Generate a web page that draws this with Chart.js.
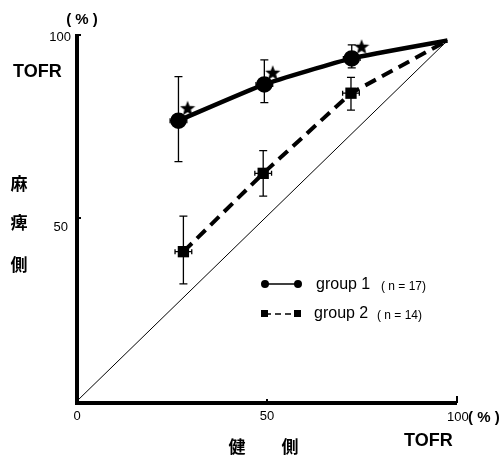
<!DOCTYPE html>
<html>
<head>
<meta charset="utf-8">
<script src="https://cdn.jsdelivr.net/npm/chart.js@4"></script>
<style>
  html, body { margin: 0; padding: 0; background: #fff; }
  #wrap { width: 502px; height: 464px; position: relative; }
</style>
</head>
<body>
<div id="wrap"><canvas id="chart" width="502" height="464"></canvas></div>
<script>
// group 1 (n = 17), last point is where the lines meet
const g1X = [26.7, 49.3, 72.3, 97.5];
const g1Y = [76.6, 86.5, 93.6, 98.5];
const g1Hi = [88.6, 93.2, 97.3];
const g1Lo = [65.4, 81.5, 91.0];

// group 2 (n = 14)
const g2X = [28.0, 49.0, 72.1, 97.5];
const g2Y = [40.8, 62.2, 84.1, 98.5];
const g2Hi = [50.5, 68.4, 88.4];
const g2Lo = [32.0, 56.0, 79.5];

// horizontal error (same for all)
const xErr = 2.2;

// significance stars
const starX = [29.1, 51.5, 74.9];
const starY = [80.0, 89.7, 96.8];

// identity line
const diagX = [0, 97.5];
const diagY = [0, 98.5];

const xTicks = [0, 50, 100];
const yTicks = [50, 100];

function pts(xs, ys) {
  return xs.map((x, i) => ({ x: x, y: ys[i] }));
}

// filled star used as point style
const starImg = document.createElement("canvas");
starImg.width = 16;
starImg.height = 16;
(function () {
  const c = starImg.getContext("2d");
  c.fillStyle = "#000";
  c.beginPath();
  for (let i = 0; i < 10; i++) {
    const r = i % 2 === 0 ? 8 : 3.4;
    const a = -Math.PI / 2 + (i * Math.PI) / 5;
    const px = 8 + r * Math.cos(a);
    const py = 8.5 + r * Math.sin(a);
    if (i === 0) c.moveTo(px, py);
    else c.lineTo(px, py);
  }
  c.closePath();
  c.fill();
})();

const decor = {
  id: "decor",
  afterDatasetsDraw(chart) {
    const ctx = chart.ctx;
    const xs = chart.scales.x;
    const ys = chart.scales.y;
    const X = (v) => xs.getPixelForValue(v);
    const Y = (v) => ys.getPixelForValue(v);

    ctx.save();
    ctx.strokeStyle = "#000";
    ctx.fillStyle = "#000";

    // error bars
    ctx.lineWidth = 1.3;
    const cap = 4;
    function errBars(xArr, yArr, hi, lo) {
      for (let i = 0; i < hi.length; i++) {
        const px = X(xArr[i]);
        const py = Y(yArr[i]);
        ctx.beginPath();
        ctx.moveTo(px, Y(hi[i]));
        ctx.lineTo(px, Y(lo[i]));
        ctx.moveTo(px - cap, Y(hi[i]));
        ctx.lineTo(px + cap, Y(hi[i]));
        ctx.moveTo(px - cap, Y(lo[i]));
        ctx.lineTo(px + cap, Y(lo[i]));
        ctx.moveTo(X(xArr[i] - xErr), py);
        ctx.lineTo(X(xArr[i] + xErr), py);
        ctx.moveTo(X(xArr[i] - xErr), py - 2.5);
        ctx.lineTo(X(xArr[i] - xErr), py + 2.5);
        ctx.moveTo(X(xArr[i] + xErr), py - 2.5);
        ctx.lineTo(X(xArr[i] + xErr), py + 2.5);
        ctx.stroke();
      }
    }
    errBars(g1X, g1Y, g1Hi, g1Lo);
    errBars(g2X, g2Y, g2Hi, g2Lo);

    // axes
    ctx.lineWidth = 4;
    ctx.beginPath();
    ctx.moveTo(X(0), Y(100) - 1);
    ctx.lineTo(X(0), Y(0) + 2);
    ctx.lineTo(X(100), Y(0) + 2);
    ctx.stroke();
    ctx.lineWidth = 2;
    ctx.beginPath();
    ctx.moveTo(X(0), Y(100));
    ctx.lineTo(X(0) + 4, Y(100));
    ctx.moveTo(X(100), Y(0) + 2);
    ctx.lineTo(X(100), Y(0) - 5);
    ctx.moveTo(X(50), Y(0) + 2);
    ctx.lineTo(X(50), Y(0) - 2);
    ctx.moveTo(X(0), Y(50));
    ctx.lineTo(X(0) + 4, Y(50));
    ctx.stroke();

    // tick labels
    ctx.font = "13px 'Liberation Sans', Arial, sans-serif";
    ctx.textBaseline = "top";
    ctx.textAlign = "center";
    ctx.fillText(String(xTicks[0]), X(xTicks[0]), Y(0) + 9);
    ctx.fillText(String(xTicks[1]), X(xTicks[1]), Y(0) + 9);
    ctx.textAlign = "left";
    ctx.fillText(String(xTicks[2]), X(xTicks[2]) - 10, Y(0) + 10);
    ctx.font = "bold 15px 'Liberation Sans', Arial, sans-serif";
    ctx.fillText("( % )", X(xTicks[2]) + 11, Y(0) + 9);

    ctx.font = "13px 'Liberation Sans', Arial, sans-serif";
    ctx.textAlign = "right";
    ctx.textBaseline = "middle";
    ctx.fillText(String(yTicks[1]), X(0) - 6, Y(yTicks[1]) + 2);
    ctx.fillText(String(yTicks[0]), X(0) - 9, Y(yTicks[0]) + 9);

    ctx.font = "bold 15px 'Liberation Sans', Arial, sans-serif";
    ctx.textAlign = "center";
    ctx.fillText("( % )", 82, 20);

    // axis titles
    ctx.font = "bold 18px 'Liberation Sans', Arial, sans-serif";
    ctx.textAlign = "left";
    ctx.fillText("TOFR", 13, 72);
    ctx.fillText("TOFR", 404, 441);

    ctx.font = "bold 17px 'Noto Sans CJK JP', sans-serif";
    ctx.textAlign = "center";
    ctx.fillText("麻", 19, 184);
    ctx.fillText("痺", 19, 223);
    ctx.fillText("側", 19, 265);
    ctx.fillText("健", 237, 447);
    ctx.fillText("側", 290, 447);

    // legend
    ctx.lineWidth = 1.5;
    ctx.setLineDash([]);
    ctx.beginPath();
    ctx.moveTo(265, 284);
    ctx.lineTo(298, 284);
    ctx.stroke();
    ctx.beginPath();
    ctx.arc(265, 284, 4, 0, Math.PI * 2);
    ctx.arc(298, 284, 4, 0, Math.PI * 2);
    ctx.fill();
    ctx.setLineDash([6, 4]);
    ctx.beginPath();
    ctx.moveTo(265, 314);
    ctx.lineTo(298, 314);
    ctx.stroke();
    ctx.setLineDash([]);
    ctx.fillRect(261, 310, 7, 7);
    ctx.fillRect(294, 310, 7, 7);

    ctx.textAlign = "left";
    ctx.font = "16px 'Liberation Sans', Arial, sans-serif";
    ctx.fillText("group 1", 316, 285);
    ctx.fillText("group 2", 314, 314);
    ctx.font = "12px 'Liberation Sans', Arial, sans-serif";
    ctx.fillText("( n = 17)", 381, 287);
    ctx.fillText("( n = 14)", 377, 316);

    ctx.restore();
  },
};

new Chart(document.getElementById("chart"), {
  type: "scatter",
  data: {
    datasets: [
      {
        label: "diag",
        data: pts(diagX, diagY),
        showLine: true,
        borderColor: "#000",
        borderWidth: 1,
        pointRadius: 0,
      },
      {
        label: "group 1",
        data: pts(g1X, g1Y),
        showLine: true,
        borderColor: "#000",
        backgroundColor: "#000",
        borderWidth: 4.5,
        pointStyle: "circle",
        pointRadius: [6, 6, 6, 0],
        tension: 0.15,
      },
      {
        label: "group 2",
        data: pts(g2X, g2Y),
        showLine: true,
        borderColor: "#000",
        backgroundColor: "#000",
        borderWidth: 4,
        borderDash: [12, 7],
        pointStyle: "rect",
        pointRadius: [8, 8, 8, 0],
        pointBorderWidth: 0,
      },
      {
        label: "stars",
        data: pts(starX, starY),
        pointStyle: starImg,
        pointRadius: 8,
      },
    ],
  },
  options: {
    responsive: false,
    animation: false,
    layout: { padding: { left: 77, right: 45, top: 35, bottom: 63 } },
    plugins: { legend: { display: false }, tooltip: { enabled: false } },
    scales: {
      x: { type: "linear", min: 0, max: 100, display: false },
      y: { type: "linear", min: 0, max: 100, display: false },
    },
  },
  plugins: [decor],
});
</script>
</body>
</html>
